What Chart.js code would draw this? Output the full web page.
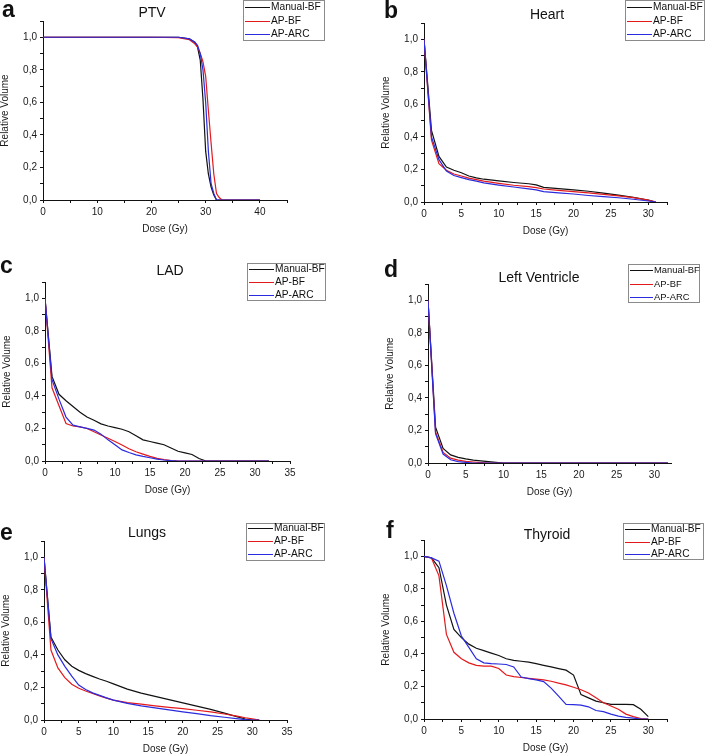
<!DOCTYPE html>
<html>
<head>
<meta charset="utf-8">
<script src="https://cdn.jsdelivr.net/npm/chart.js@4.4.0/dist/chart.umd.min.js"></script>
<style>
  body { margin: 0; background: #fff; width: 709px; height: 755px; position: relative; overflow: hidden;
         font-family: Arial, "Liberation Sans", sans-serif; color: #111; }
  canvas { position: absolute; }
  .letter { position: absolute; font-weight: bold; font-size: 23px; line-height: 23px; }
  .title { position: absolute; font-size: 14px; line-height: 14px; transform: translate(-50%, -50%); white-space: nowrap; }
  .legend { position: absolute; border: 1px solid #8a8a8a; background: #fff; box-sizing: border-box; z-index: 2; }
  .legend .ln { position: absolute; left: 1px; width: 25px; height: 1.5px; }
  .legend .tx { position: absolute; left: 27px; line-height: 1; transform: translateY(-50%); white-space: nowrap; }
</style>
</head>
<body>
<script>
const seriesNames = ['Manual-BF', 'AP-BF', 'AP-ARC'];
const seriesColors = ['#111111', '#e3191c', '#2a2ade'];
const yTickLabels = ['0,0', '0,2', '0,4', '0,6', '0,8', '1,0'];

// a - PTV
const ptvDose     = [0, 10, 20, 25, 27, 28, 28.5, 29, 29.5, 30, 30.5, 31, 31.5, 32, 32.5, 33, 35, 40];
const ptvManualBF = [1, 1, 1, 1, 0.99, 0.97, 0.94, 0.86, 0.62, 0.3, 0.16, 0.08, 0.03, 0, 0, 0, 0, 0];
const ptvApBF     = [1, 1, 1, 0.998, 0.985, 0.96, 0.94, 0.9, 0.85, 0.76, 0.55, 0.35, 0.16, 0.04, 0.015, 0, 0, 0];
const ptvApARC    = [1, 1, 1, 1, 0.99, 0.97, 0.95, 0.9, 0.8, 0.6, 0.3, 0.1, 0.04, 0, 0, 0, 0, 0];

// b - Heart
const heartDose     = [0, 1, 2, 3, 4, 5, 6, 7, 8, 10, 12, 14, 15, 16, 18, 20, 22, 24, 26, 28, 30, 31];
const heartManualBF = [1, 0.44, 0.28, 0.215, 0.195, 0.18, 0.16, 0.148, 0.14, 0.13, 0.12, 0.112, 0.105, 0.09, 0.082, 0.074, 0.066, 0.055, 0.042, 0.028, 0.012, 0];
const heartApBF     = [1, 0.38, 0.235, 0.195, 0.172, 0.16, 0.147, 0.137, 0.128, 0.115, 0.103, 0.094, 0.088, 0.08, 0.072, 0.064, 0.056, 0.047, 0.038, 0.027, 0.012, 0];
const heartApARC    = [1, 0.4, 0.26, 0.19, 0.163, 0.15, 0.138, 0.128, 0.118, 0.104, 0.092, 0.081, 0.075, 0.064, 0.056, 0.049, 0.04, 0.033, 0.026, 0.017, 0.006, 0];

// c - LAD
const ladDose     = [0, 1, 2, 3, 4, 5, 6, 7, 8, 9, 10, 11, 12, 13, 14, 15, 16, 17, 18, 19, 20, 21, 22, 23, 25, 32];
const ladManualBF = [1, 0.52, 0.41, 0.37, 0.335, 0.3, 0.27, 0.25, 0.228, 0.215, 0.205, 0.195, 0.18, 0.155, 0.13, 0.12, 0.11, 0.1, 0.08, 0.06, 0.05, 0.04, 0.015, 0, 0, 0];
const ladApBF     = [1, 0.45, 0.34, 0.23, 0.215, 0.21, 0.2, 0.18, 0.16, 0.14, 0.12, 0.098, 0.075, 0.057, 0.042, 0.028, 0.016, 0.008, 0.003, 0, 0, 0, 0, 0, 0, 0];
const ladApARC    = [1, 0.5, 0.38, 0.27, 0.22, 0.21, 0.2, 0.19, 0.165, 0.13, 0.1, 0.068, 0.052, 0.038, 0.028, 0.02, 0.012, 0.006, 0.002, 0, 0, 0, 0, 0, 0, 0];

// d - Left Ventricle
const lvDose     = [0, 1, 2, 3, 4, 5, 6, 7, 8, 9, 10, 15, 31.8];
const lvManualBF = [1, 0.22, 0.09, 0.05, 0.035, 0.025, 0.018, 0.013, 0.008, 0.004, 0, 0, 0];
const lvApBF     = [1, 0.19, 0.065, 0.03, 0.018, 0.01, 0.006, 0.003, 0, 0, 0, 0, 0];
const lvApARC    = [1, 0.18, 0.055, 0.02, 0.008, 0.004, 0, 0, 0, 0, 0, 0, 0];

// e - Lungs
const lungsDose     = [0, 1, 2, 3, 4, 5, 6, 7, 8, 9, 10, 12, 14, 16, 18, 20, 22, 24, 26, 28, 29, 30, 31];
const lungsManualBF = [1, 0.51, 0.43, 0.37, 0.33, 0.305, 0.285, 0.268, 0.252, 0.238, 0.222, 0.19, 0.165, 0.145, 0.125, 0.105, 0.085, 0.065, 0.042, 0.018, 0.006, 0, 0];
const lungsApBF     = [1, 0.43, 0.32, 0.26, 0.22, 0.195, 0.178, 0.163, 0.148, 0.134, 0.122, 0.107, 0.097, 0.087, 0.078, 0.07, 0.06, 0.05, 0.037, 0.022, 0.014, 0.007, 0];
const lungsApARC    = [1, 0.5, 0.4, 0.33, 0.27, 0.215, 0.187, 0.167, 0.151, 0.136, 0.122, 0.102, 0.087, 0.074, 0.062, 0.05, 0.039, 0.027, 0.017, 0.007, 0.002, 0, 0];

// f - Thyroid
const thyDose     = [0, 1, 2, 3, 4, 5, 6, 7, 8, 9, 10, 11, 12, 13, 14, 15, 16, 17, 18, 19, 20, 21, 22, 23, 24, 25, 26, 27, 28, 29, 30];
const thyManualBF = [1, 0.99, 0.93, 0.7, 0.55, 0.5, 0.46, 0.435, 0.42, 0.405, 0.39, 0.37, 0.36, 0.355, 0.35, 0.34, 0.33, 0.32, 0.31, 0.3, 0.27, 0.15, 0.13, 0.11, 0.1, 0.09, 0.09, 0.09, 0.088, 0.06, 0.015];
const thyApBF     = [1, 0.99, 0.88, 0.52, 0.41, 0.37, 0.345, 0.33, 0.325, 0.325, 0.31, 0.27, 0.26, 0.255, 0.25, 0.245, 0.24, 0.232, 0.22, 0.21, 0.195, 0.18, 0.16, 0.13, 0.1, 0.08, 0.06, 0.03, 0.015, 0.003, 0];
const thyApARC    = [1, 0.99, 0.97, 0.82, 0.65, 0.51, 0.44, 0.37, 0.345, 0.34, 0.338, 0.335, 0.32, 0.258, 0.248, 0.24, 0.23, 0.19, 0.14, 0.09, 0.088, 0.085, 0.075, 0.052, 0.045, 0.03, 0.018, 0.01, 0.005, 0, 0];

// panel layout: plot box in page pixels (l, r, t = y 1.1, b = y 0)
const panels = [
  { letter: 'a', title: 'PTV', dose: ptvDose, vals: [ptvManualBF, ptvApBF, ptvApARC],
    xMax: 45, xStep: 5, xLab: 10, box: [43, 287, 21, 200],
    letterAt: [2, -2.5], titleAt: [152, 12], legend: [243, 0, 82, 41, [7, 21, 34], 10.2] },
  { letter: 'b', title: 'Heart', dose: heartDose, vals: [heartManualBF, heartApBF, heartApARC],
    xMax: 32.5, xStep: 2.5, xLab: 5, box: [424, 667, 23, 202],
    letterAt: [384, -1.5], titleAt: [547, 14], legend: [625, 0, 80, 41, [7, 21, 34], 10.2] },
  { letter: 'c', title: 'LAD', dose: ladDose, vals: [ladManualBF, ladApBF, ladApARC],
    xMax: 35, xStep: 2.5, xLab: 5, box: [45, 290, 282, 461],
    letterAt: [0, 253.5], titleAt: [170, 270], legend: [247, 263, 79, 38, [6, 19, 32], 10.2] },
  { letter: 'd', title: 'Left Ventricle', dose: lvDose, vals: [lvManualBF, lvApBF, lvApARC],
    xMax: 32.2, xStep: 2.5, xLab: 5, box: [428, 671, 284, 463],
    letterAt: [384, 257.5], titleAt: [539, 277], legend: [628, 264, 72, 39, [6, 20, 33], 9.4] },
  { letter: 'e', title: 'Lungs', dose: lungsDose, vals: [lungsManualBF, lungsApBF, lungsApARC],
    xMax: 35, xStep: 2.5, xLab: 5, box: [44, 287, 541, 720],
    letterAt: [0, 520.5], titleAt: [147, 532], legend: [246, 523, 79, 38, [5, 18, 31], 10.2] },
  { letter: 'f', title: 'Thyroid', dose: thyDose, vals: [thyManualBF, thyApBF, thyApARC],
    xMax: 32.5, xStep: 2.5, xLab: 5, box: [424, 667, 540, 719],
    letterAt: [386, 518.5], titleAt: [547, 534], legend: [623, 523, 81, 37, [6, 19, 31], 10.2] }
];

const tickFont = { family: 'Arial, "Liberation Sans", sans-serif', size: 10 };

function addDiv(cls, text, css) {
  const d = document.createElement('div');
  d.className = cls;
  if (text) d.textContent = text;
  Object.assign(d.style, css);
  document.body.appendChild(d);
  return d;
}

function makePanel(p) {
  const [l, r, t, b] = p.box;
  const padT = 10, padR = 12, yW = 44, xH = 35;
  const cv = document.createElement('canvas');
  cv.width = (r - l) + yW + padR;
  cv.height = (b - t) + padT + xH;
  cv.style.left = (l - yW) + 'px';
  cv.style.top = (t - padT) + 'px';
  document.body.appendChild(cv);

  // blue on top, then red, then black
  const datasets = p.vals.map((v, i) => ({
    label: seriesNames[i],
    data: p.dose.map((x, j) => ({ x: x, y: v[j] })),
    borderColor: seriesColors[i],
    borderWidth: 1.2,
    pointRadius: 0,
    tension: 0,
    fill: false,
    order: 2 - i
  }));

  new Chart(cv.getContext('2d'), {
    type: 'line',
    data: { datasets: datasets },
    options: {
      responsive: false,
      animation: false,
      layout: { padding: { top: padT, right: padR, left: 0, bottom: 0 } },
      plugins: { legend: { display: false }, tooltip: { enabled: false } },
      scales: {
        x: {
          type: 'linear', min: 0, max: p.xMax,
          afterFit: s => { s.height = xH; },
          grid: { drawOnChartArea: false, drawTicks: true, tickLength: 3, tickColor: '#111' },
          border: { display: true, color: '#111', width: 1 },
          ticks: {
            stepSize: p.xStep, autoSkip: false, maxRotation: 0, includeBounds: false,
            padding: 3, color: '#1a1a1a', font: tickFont,
            callback: v => (Math.round(v * 10) % Math.round(p.xLab * 10) === 0 ? String(v) : '')
          },
          title: { display: true, text: 'Dose (Gy)', color: '#1a1a1a', font: tickFont, padding: { top: 0, bottom: 0 } }
        },
        y: {
          min: 0, max: 1.1,
          afterFit: s => { s.width = yW; },
          grid: { drawOnChartArea: false, drawTicks: true, tickLength: 3, tickColor: '#111' },
          border: { display: true, color: '#111', width: 1 },
          ticks: {
            stepSize: 0.1, autoSkip: false, padding: 3, color: '#1a1a1a', font: tickFont,
            callback: v => {
              const k = Math.round(v * 10);
              return (k % 2 === 0 && k <= 10) ? yTickLabels[k / 2] : '';
            }
          },
          title: { display: true, text: 'Relative Volume', color: '#1a1a1a', font: tickFont, padding: { top: 0, bottom: 0 } }
        }
      }
    }
  });

  addDiv('letter', p.letter, { left: p.letterAt[0] + 'px', top: p.letterAt[1] + 'px' });
  addDiv('title', p.title, { left: p.titleAt[0] + 'px', top: p.titleAt[1] + 'px' });

  const [lx, ly, lw, lh, rows, fs] = p.legend;
  const box = addDiv('legend', '', { left: lx + 'px', top: ly + 'px', width: lw + 'px', height: lh + 'px' });
  rows.forEach((ry, i) => {
    const ln = document.createElement('div');
    ln.className = 'ln';
    ln.style.top = (ry - 1.25) + 'px';
    ln.style.backgroundColor = seriesColors[i];
    box.appendChild(ln);
    const tx = document.createElement('div');
    tx.className = 'tx';
    tx.textContent = seriesNames[i];
    tx.style.top = (ry - 1) + 'px';
    tx.style.fontSize = fs + 'px';
    if (fs < 10) { ln.style.width = '23px'; tx.style.left = '25px'; }
    box.appendChild(tx);
  });
}

panels.forEach(makePanel);
</script>
</body>
</html>
